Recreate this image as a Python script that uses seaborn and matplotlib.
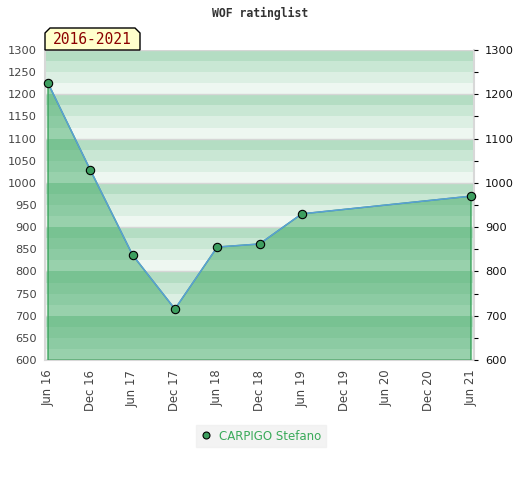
import matplotlib
matplotlib.use("Agg")
import matplotlib.pyplot as plt
from matplotlib.lines import Line2D
from matplotlib.patches import Polygon
from matplotlib.ticker import MultipleLocator
import seaborn as sns
import pandas as pd

# ---- data ----
dates = ["2016-06", "2016-12", "2017-06", "2017-12", "2018-06", "2018-12", "2019-06", "2021-06"]
ratings = [1225, 1029, 837, 715, 855, 862, 930, 970]
tick_dates = ["2016-06", "2016-12", "2017-06", "2017-12", "2018-06", "2018-12",
              "2019-06", "2019-12", "2020-06", "2020-12", "2021-06"]
tick_labels = ["Jun 16", "Dec 16", "Jun 17", "Dec 17", "Jun 18", "Dec 18",
               "Jun 19", "Dec 19", "Jun 20", "Dec 20", "Jun 21"]
player = "CARPIGO Stefano"
period = "2016-2021"
title = "WOF ratinglist"
y_min, y_max = 600, 1300


def month_index(s, base="2016-06"):
    y, m = map(int, s.split("-"))
    by, bm = map(int, base.split("-"))
    return (y - by) * 12 + (m - bm)


x = [month_index(d) for d in dates]
xt = [month_index(d) for d in tick_dates]
df = pd.DataFrame({"month": x, "rating": ratings})

sns.set_theme(style="white")
plt.rcParams["font.family"] = ["DejaVu Sans"]

W, H = 520, 480
fig = plt.figure(figsize=(W / 100, H / 100), dpi=100)
ax = fig.add_axes([45 / W, 120 / H, 429 / W, 310 / H])
ax.set_xlim(xt[0] - 0.43, xt[-1] + 0.43)
ax.set_ylim(y_min, y_max)

bg_cols = ["#eef7f1", "#dcefe3", "#c9e7d4", "#b4ddc3"]
area_cols = ["#98d1ac", "#8ccba3", "#82c69a", "#78c292"]

# background stripes
for base in range(y_min, y_max, 100):
    for k in range(4):
        ax.axhspan(base + 25 * k, base + 25 * (k + 1), color=bg_cols[k], lw=0, zorder=0)
for v in range(y_min, y_max + 1, 100):
    ax.axhline(v, color="#d6d6d6", lw=1, zorder=0.5)

# area
coll = ax.fill_between(df["month"], df["rating"], y_min, facecolor="none",
                       edgecolor="#3aa35c", lw=1, zorder=3)
clip_path = coll.get_paths()[0]
for base in range(y_min, y_max, 100):
    for k in range(4):
        r = ax.axhspan(base + 25 * k, base + 25 * (k + 1), color=area_cols[k], lw=0, zorder=2)
        r.set_clip_path(clip_path, ax.transData)

# line + markers
sns.lineplot(data=df, x="month", y="rating", ax=ax, color="#5a9fd6", lw=1.1,
             marker="o", markersize=6, markerfacecolor="#3d9e5f",
             markeredgecolor="black", markeredgewidth=0.8, zorder=5, clip_on=False)

for s in ["left", "bottom", "right", "top"]:
    ax.spines[s].set_color("#d8d8d8")
    ax.spines[s].set_linewidth(1.5)
ax.spines["top"].set_visible(False)

ax.set_xticks(xt)
ax.set_xticklabels(tick_labels, rotation=90, fontsize=8.4, color="#444444")
ax.set_yticks(range(y_min, y_max + 1, 50))
ax.tick_params(axis="y", length=0, pad=6, labelsize=8.2, labelcolor="#444444")
ax.tick_params(axis="x", length=0, pad=7)
ax.set_xlabel("")
ax.set_ylabel("")

ax2 = ax.twinx()
ax2.set_ylim(y_min, y_max)
ax2.set_yticks(range(y_min, y_max + 1, 100))
ax2.yaxis.set_minor_locator(MultipleLocator(50))
ax2.tick_params(axis="y", which="major", length=3, width=0.8, color="black",
                pad=5, labelsize=8.2, labelcolor="#111111", direction="out")
ax2.tick_params(axis="y", which="minor", length=3, width=0.8, color="black", direction="out")
for s in ax2.spines.values():
    s.set_visible(False)

# title
fig.text(260 / W, 1 - 13 / H, title, family="DejaVu Sans Mono", weight="bold",
         fontsize=8.3, ha="center", va="center", color="#333333")

# period label box
bx0, bx1, by0, by1, c = 45, 140, 28, 50, 5
pts = [(bx0, by1), (bx0, by0 + c), (bx0 + c, by0), (bx1 - c, by0), (bx1, by0 + c), (bx1, by1)]
pts = [(px / W, 1 - py / H) for px, py in pts]
fig.patches.append(Polygon(pts, closed=True, facecolor="#ffffcc", edgecolor="black",
                           lw=1, transform=fig.transFigure, zorder=10))
fig.text((bx0 + bx1) / 2 / W, 1 - 40 / H, period, family="DejaVu Sans Mono",
         fontsize=10.5, color="#8b0000", ha="center", va="center", zorder=11)

# legend
handle = Line2D([], [], linestyle="none", marker="o", markersize=5,
                markerfacecolor="#3d9e5f", markeredgecolor="black", markeredgewidth=0.8)
leg = fig.legend([handle], [player], loc="center", bbox_to_anchor=(261 / W, 1 - 436 / H),
                 frameon=True, fontsize=8.5, handlelength=1, handletextpad=0.6,
                 borderpad=0.4, fancybox=False)
leg.get_frame().set_facecolor("#f0f0f0")
leg.get_frame().set_edgecolor("#f0f0f0")
for t in leg.get_texts():
    t.set_color("#3aaa5a")

fig.savefig("out.png", dpi=100)
